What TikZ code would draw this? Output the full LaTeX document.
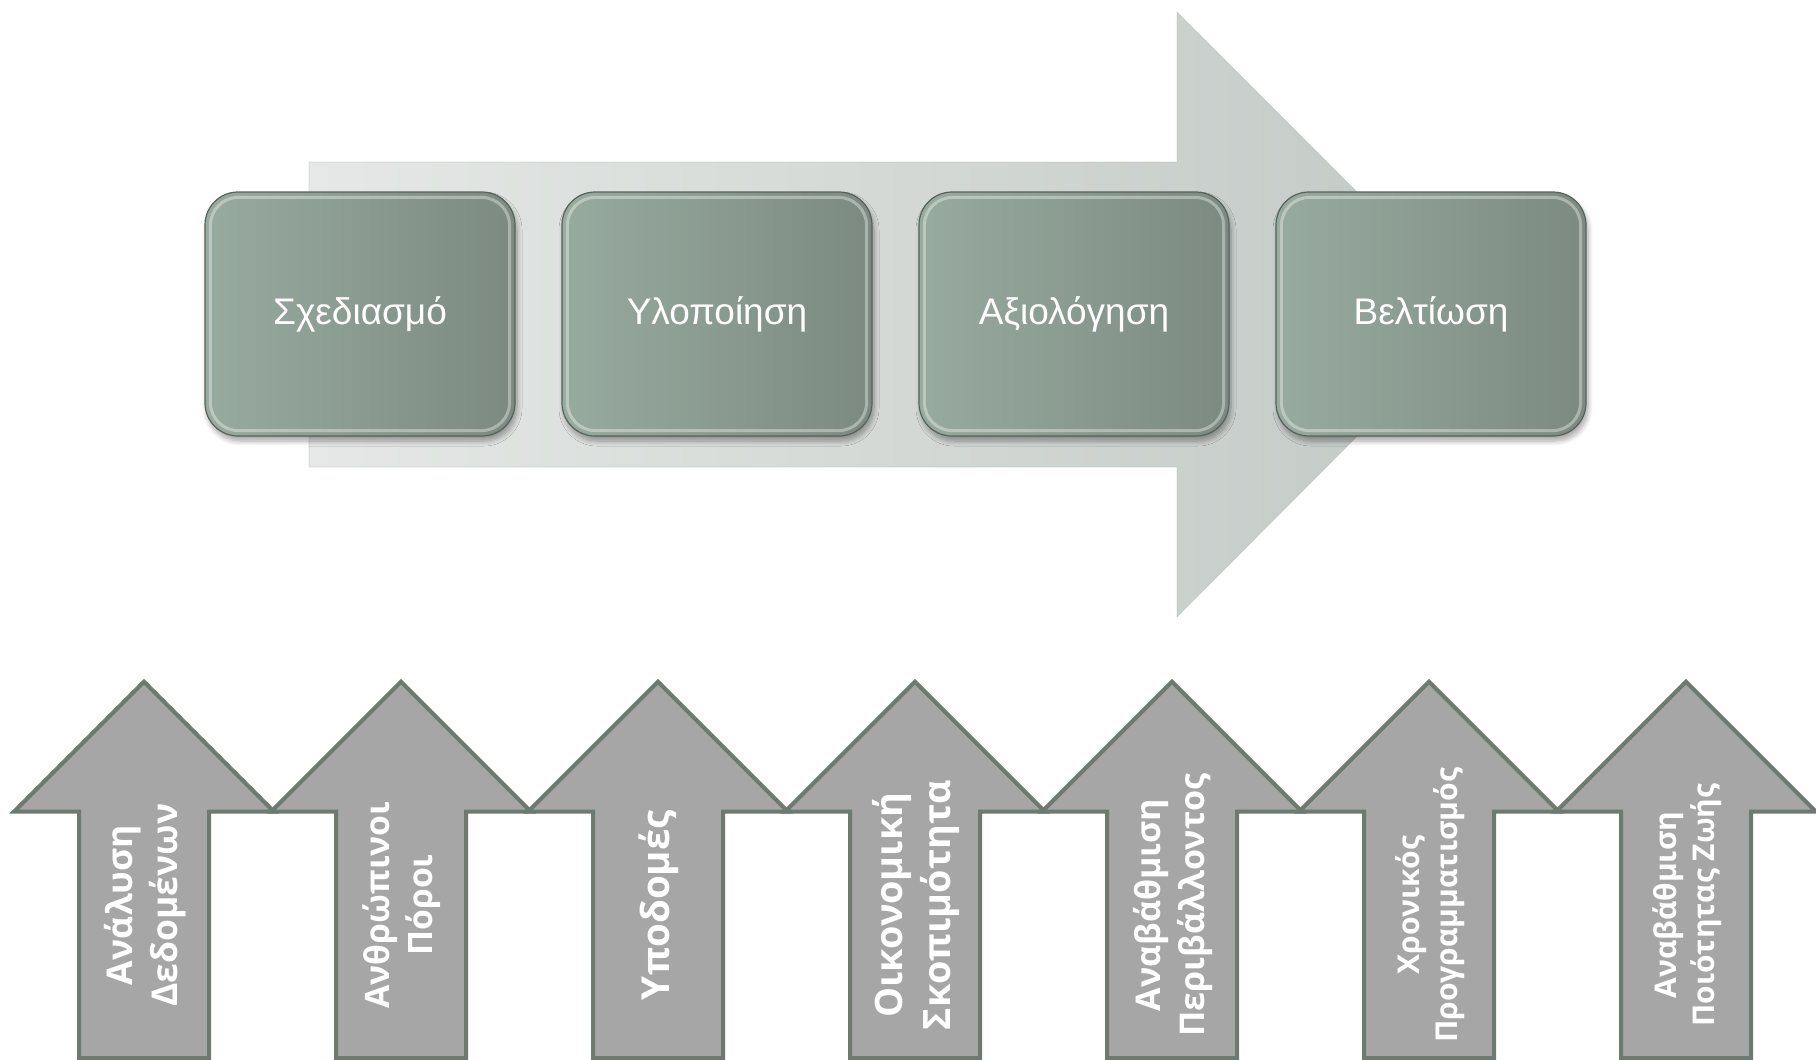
\documentclass[tikz,border=0pt]{standalone}
\usepackage{fontspec}
\setmainfont{Liberation Sans}
\newfontfamily\arrowfont{Open Sans}
\usetikzlibrary{shadows.blur,calc}
\definecolor{boxL}{HTML}{98AB9F}
\definecolor{boxR}{HTML}{7C8A81}
\definecolor{boxEdge}{HTML}{56625B}
\definecolor{bigL}{HTML}{E5E8E6}
\definecolor{bigR}{HTML}{C2C9C5}
\definecolor{upFill}{HTML}{A6A6A6}
\definecolor{upEdge}{HTML}{6C7A70}
\newlength\arrowlinelen
\newcommand\fitfs[3]{%
  \settowidth\arrowlinelen{\arrowfont\bfseries\fontsize{10}{12}\selectfont #2}%
  \pgfmathsetmacro\tmpfs{10*#3/\arrowlinelen}%
  \expandafter\xdef\csname myfs#1\endcsname{\tmpfs}}
\AtBeginDocument{%
  \fitfs{0}{Δεδομένων}{203}%
  \fitfs{1}{Ανθρώπινοι}{207}%
  \fitfs{2}{Υποδομές}{190}%
  \fitfs{3}{Σκοπιμότητα}{250}%
  \fitfs{4}{Περιβάλλοντος}{263}%
  \fitfs{5}{Προγραμματισμός}{275}%
  \fitfs{6}{Ποιότητας Ζωής}{243}}
\tikzset{
  stepbox/.style={draw=boxEdge, line width=1.2pt, rounded corners=33pt,
    left color=boxL, right color=boxR,
    minimum width=310pt, minimum height=244pt, inner sep=0pt,
    text=white, font=\fontsize{37}{44}\selectfont,
    blur shadow={shadow xshift=2pt, shadow yshift=-5pt, shadow opacity=35, shadow blur steps=8, shadow blur radius=5pt}},
  rim/.style={draw=white, draw opacity=0.35, line width=3pt, rounded corners=28pt},
  bigarrow/.style={left color=bigL, right color=bigR, draw=bigR!85!black, draw opacity=0.4, line width=0.6pt},
  uparrow/.style={fill=upFill, draw=upEdge, line width=4pt, line join=miter},
  uplabel/.style={rotate=90, align=center, text=white, inner sep=0pt},
}
\begin{document}
\begin{tikzpicture}[x=1pt, y=-1pt]
\useasboundingbox (0,0) rectangle (1816,1060);
% big background arrow
\path[bigarrow] (309,162) coordinate (ba1) -- (1177,162) -- (1177,12) -- (1479,314) coordinate (batip)
  -- (1177,617) -- (1177,467) -- (309,467) -- cycle;
% step boxes
\foreach \n/\cx/\t in {1/360/Σχεδιασμό, 2/717/Υλοποίηση, 3/1074/Αξιολόγηση, 4/1431/Βελτίωση}{
  \node[stepbox] (b\n) at (\cx,314) {\t};
  \draw[rim] ($(b\n.north west)+(6,6)$) rectangle ($(b\n.south east)+(-6,-6)$);
}
% upward arrows (font size fitted to the longest line)
\foreach \i/\t in {0/{Ανάλυση\\Δεδομένων},
                   1/{Ανθρώπινοι\\Πόροι},
                   2/{Υποδομές},
                   3/{Οικονομική\\Σκοπιμότητα},
                   4/{Αναβάθμιση\\Περιβάλλοντος},
                   5/{Χρονικός\\Προγραμματισμός},
                   6/{Αναβάθμιση\\Ποιότητας Ζωής}}{
  \pgfmathsetmacro{\cx}{144+257*\i}
  \edef\fs{\csname myfs\i\endcsname}
  \pgfmathsetmacro{\ls}{1.27*\fs}
  \draw[uparrow] (\cx-65,1058) -- (\cx-65,811.7) -- (\cx-130,811.7) -- (\cx,681.7) coordinate (tip\i)
     -- (\cx+130,811.7) -- (\cx+65,811.7) -- (\cx+65,1058) -- cycle;
  \node[uplabel, font=\arrowfont\bfseries\fontsize{\fs}{\ls}\selectfont] (u\i) at (\cx+1,905) {\t};
}
\end{tikzpicture}
\end{document}
